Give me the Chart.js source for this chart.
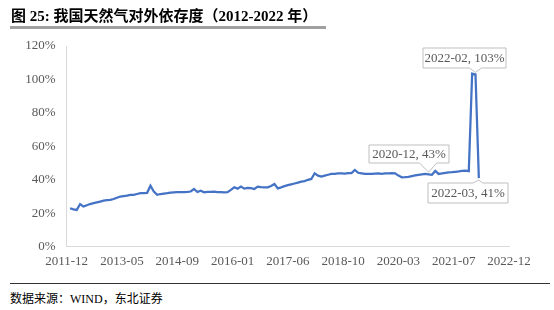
<!DOCTYPE html>
<html>
<head>
<meta charset="utf-8">
<script src="https://cdn.jsdelivr.net/npm/chart.js@4.4.1/dist/chart.umd.min.js"></script>
<style>
  body { margin: 0; background: #fff; }
  #page { position: relative; width: 554px; height: 310px; overflow: hidden; }
  #title { position: absolute; left: 11px; top: 4px; font: bold 15px "Liberation Serif", "Noto Sans CJK SC"; color: #000; white-space: nowrap; }
  #titleBar { position: absolute; left: 10px; top: 26px; width: 316px; height: 3px; background: #a0a0a0; }
  #chartBox { position: absolute; left: 0; top: 0; width: 554px; height: 280px; }
  #srcLine { position: absolute; left: 10px; top: 283px; width: 540px; height: 1px; background: #333; }
  #source { position: absolute; left: 10px; top: 289px; font: 12px "Liberation Serif", "Noto Sans CJK SC"; color: #000; white-space: nowrap; }
</style>
</head>
<body>
<div id="page">
  <div id="chartBox"><canvas id="gasChart" width="554" height="280"></canvas></div>
  <div id="title">图 25: 我国天然气对外依存度（2012-2022 年）</div>
  <div id="titleBar"></div>
  <div id="srcLine"></div>
  <div id="source">数据来源：WIND，东北证券</div>
</div>
<script>
// ------------- data --------------------------- //

// monthly dependence on imported gas, % (2012-01 .. 2022-03)
var startYear = 2012
var dependence = [
    23.0, 22.3, 22.0, 25.5, 24.0, 24.8, 25.5, 26.0, 26.5, 27.0, 27.5, 27.8,
    28.0, 28.5, 29.3, 30.0, 30.3, 30.5, 31.0, 31.0, 31.5, 32.0, 32.0, 32.2,
    36.5, 33.0, 31.0, 31.5, 31.8, 32.0, 32.3, 32.5, 32.7, 32.7, 32.7, 32.8,
    33.0, 34.5, 32.7, 33.5, 32.5, 32.8, 32.8, 32.9, 32.7, 32.6, 32.5, 32.6,
    34.0, 35.5, 34.7, 35.9, 34.7, 35.1, 35.0, 34.5, 35.9, 35.6, 35.5, 35.5,
    36.3, 37.5, 34.9, 35.5, 36.2, 36.8, 37.3, 37.8, 38.3, 38.9, 39.2, 40.0,
    40.5, 43.9, 42.5, 41.9, 42.5, 43.0, 43.5, 43.5, 43.8, 43.9, 43.7, 44.0,
    44.0, 45.9, 44.2, 43.9, 43.6, 43.5, 43.5, 43.7, 43.9, 43.6, 43.8, 43.9,
    44.0, 43.9, 42.5, 41.5, 41.6, 41.8, 42.2, 42.6, 43.0, 43.3, 43.5, 43.3,
    43.0, 45.3, 43.5, 43.8, 44.2, 44.5, 44.6, 44.8, 45.0, 45.3, 45.5, 45.2,
    103.5, 103.0, 41.0
]

var xTickLabels = ["2011-12", "2013-05", "2014-09", "2016-01", "2017-06", "2018-10", "2020-03", "2021-07", "2022-12"]
var yTicks = [0, 20, 40, 60, 80, 100, 120]

// labelled points: month label -> shown text
var callouts = [
    { month: "2022-02", text: "2022-02, 103%" },
    { month: "2020-12", text: "2020-12, 43%" },
    { month: "2022-03", text: "2022-03, 41%" }
]

// month names for each value
var months = dependence.map(function (v, i) {
    var y = startYear + Math.floor(i / 12)
    var m = (i % 12) + 1
    return y + "-" + (m < 10 ? "0" + m : m)
})

// x = months after 2011-12
var points = dependence.map(function (v, i) { return { x: i + 1, y: v } })

// ------------- callout boxes --------------------------- //

var boxPlaces = {
    "2022-02": { x: 423, y: 48, w: 83, h: 20, side: "bottom", base: [-6, 6] },
    "2020-12": { x: 369, y: 145, w: 80, h: 18, side: "bottom", base: [-9, 8] },
    "2022-03": { x: 428, y: 183, w: 80, h: 20, side: "top", base: [-6, 4] }
}

var calloutPlugin = {
    id: "callouts",
    afterDatasetsDraw: function (chart) {
        var ctx = chart.ctx
        var meta = chart.getDatasetMeta(0)
        ctx.save()
        ctx.font = "13px 'Liberation Serif'"
        ctx.textAlign = "center"
        ctx.textBaseline = "middle"
        callouts.forEach(function (c) {
            var idx = months.indexOf(c.month)
            var pt = meta.data[idx]
            var b = boxPlaces[c.month]
            var tipX = pt.x, tipY = pt.y + (b.side === "bottom" ? -2 : 2)
            var ey = b.side === "bottom" ? b.y + b.h : b.y
            var bx1 = Math.max(b.x + 2, Math.min(b.x + b.w - 2, pt.x + b.base[0]))
            var bx2 = Math.max(b.x + 2, Math.min(b.x + b.w - 2, pt.x + b.base[1]))
            ctx.beginPath()
            ctx.moveTo(b.x, b.y)
            if (b.side === "top") {
                ctx.lineTo(bx1, b.y); ctx.lineTo(tipX, tipY); ctx.lineTo(bx2, b.y)
            }
            ctx.lineTo(b.x + b.w, b.y)
            ctx.lineTo(b.x + b.w, b.y + b.h)
            if (b.side === "bottom") {
                ctx.lineTo(bx2, ey); ctx.lineTo(tipX, tipY); ctx.lineTo(bx1, ey)
            }
            ctx.lineTo(b.x, b.y + b.h)
            ctx.closePath()
            ctx.fillStyle = "#ffffff"
            ctx.fill()
            ctx.strokeStyle = "#bfbfbf"
            ctx.lineWidth = 1
            ctx.stroke()
            ctx.fillStyle = "#595959"
            ctx.fillText(c.text, b.x + b.w / 2, b.y + b.h / 2 + 1)
        })
        ctx.restore()
    }
}

// ------------- line chart --------------------------- //

var gasChart = new Chart("gasChart", {
    type: "line",
    data: {
        datasets: [{
            data: points,
            borderColor: "#4472C4",
            borderWidth: 2.25,
            pointRadius: 0,
            tension: 0,
            fill: false
        }]
    },
    plugins: [calloutPlugin],
    options: {
        responsive: false,
        animation: false,
        parsing: false,
        layout: { padding: { left: 0, right: 45, top: 46, bottom: 8 } },
        plugins: { legend: { display: false }, tooltip: { enabled: false } },
        scales: {
            x: {
                type: "linear",
                min: 0,
                max: 132,
                grid: { display: false, drawTicks: false },
                border: { display: true, color: "#d9d9d9", width: 1 },
                afterBuildTicks: function (scale) {
                    scale.ticks = xTickLabels.map(function (l, i) { return { value: i * 16.5 } })
                },
                afterFit: function (scale) { scale.height = 25.3 },
                ticks: {
                    autoSkip: false,
                    maxRotation: 0,
                    padding: 7,
                    color: "#595959",
                    font: { family: "Liberation Serif", size: 13 },
                    callback: function (v, i) { return xTickLabels[i] }
                }
            },
            y: {
                min: 0,
                max: 120,
                grid: { display: false, drawTicks: false },
                border: { display: true, color: "#d9d9d9", width: 1 },
                afterBuildTicks: function (scale) {
                    scale.ticks = yTicks.map(function (v) { return { value: v } })
                },
                afterFit: function (scale) { scale.width = 66.7 },
                ticks: {
                    padding: 11,
                    color: "#595959",
                    font: { family: "Liberation Serif", size: 13 },
                    callback: function (v) { return v + "%" }
                }
            }
        }
    }
});
</script>
</body>
</html>
